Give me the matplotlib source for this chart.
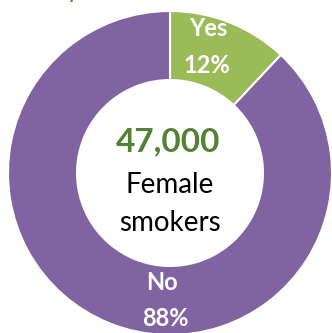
import matplotlib.pyplot as plt

labels = ['Yes', 'No']
shares = [12, 88]
colors = ['#9BBB59', '#8064A2']
total = '47,000'
center_label = 'Female\nsmokers'

plt.rcParams['font.family'] = ['Lato', 'DejaVu Sans']

fig = plt.figure(figsize=(3.32, 3.33), dpi=100)
ax = fig.add_axes([0, 0, 1, 1])

wedges, _ = ax.pie(shares, colors=colors, startangle=90, counterclock=False,
                   radius=1.0, wedgeprops=dict(width=0.426, edgecolor='white', linewidth=1.5))

# px -> data helper (centre at 170,173 px, radius 162 px)
def P(px, py):
    return (px - 170) / 162, (173 - py) / 162

lab_kw = dict(color='white', fontsize=17, fontweight='bold', ha='center', va='center')
ax.text(*P(208, 28), labels[0], **lab_kw)
ax.text(*P(207, 65), f'{shares[0]}%', **lab_kw)
ax.text(*P(162, 282), labels[1], **lab_kw)
ax.text(*P(165, 318), f'{shares[1]}%', **lab_kw)

ax.text(*P(168, 142), total, color='#548235', fontsize=24, fontweight='bold', ha='center', va='center')
ax.text(*P(170, 185), 'Female', color='black', fontsize=20, ha='center', va='center')
ax.text(*P(170, 223), 'smokers', color='black', fontsize=20, ha='center', va='center')

# cut-off heading above the chart
fig.text(75 / 332, 1 + 2 / 333, 'p', color='#9C5B12', fontsize=16, ha='center', va='baseline')

ax.set_xlim(-170 / 162, 162 / 162)
ax.set_ylim(-160 / 162, 173 / 162)
ax.set_aspect('equal')
ax.axis('off')

fig.savefig('out.png', dpi=100)
